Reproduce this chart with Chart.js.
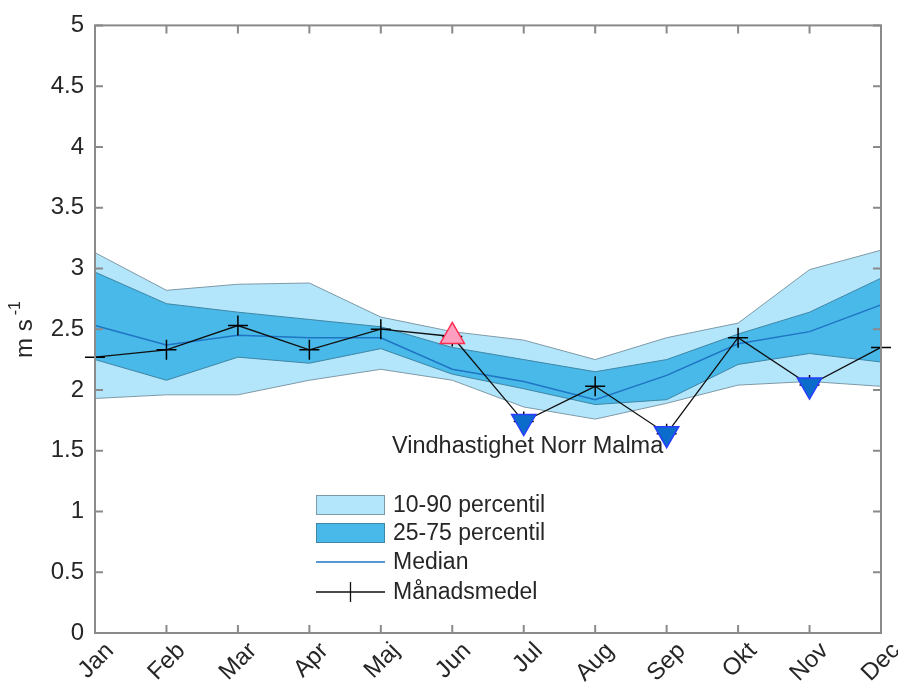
<!DOCTYPE html>
<html>
<head>
<meta charset="utf-8">
<script src="https://cdn.jsdelivr.net/npm/chart.js@4.4.1/dist/chart.umd.min.js"></script>
<style>
  html, body { margin: 0; padding: 0; background: #fff; }
  #wrap { width: 898px; height: 683px; }
</style>
</head>
<body>
<div id="wrap"><canvas id="vindChart"></canvas></div>
<script>
// Vindhastighet Norr Malma, månadsvärden (m/s)
const manader = ['Jan', 'Feb', 'Mar', 'Apr', 'Maj', 'Jun', 'Jul', 'Aug', 'Sep', 'Okt', 'Nov', 'Dec'];
const p90    = [3.13, 2.82, 2.87, 2.88, 2.60, 2.48, 2.41, 2.25, 2.43, 2.55, 2.99, 3.15];
const p75    = [2.97, 2.71, 2.64, 2.58, 2.52, 2.35, 2.25, 2.15, 2.25, 2.46, 2.64, 2.92];
const median = [2.53, 2.37, 2.45, 2.43, 2.43, 2.17, 2.07, 1.92, 2.12, 2.38, 2.48, 2.70];
const p25    = [2.25, 2.08, 2.27, 2.22, 2.34, 2.13, 2.01, 1.88, 1.92, 2.21, 2.30, 2.23];
const p10    = [1.93, 1.96, 1.96, 2.08, 2.17, 2.08, 1.86, 1.76, 1.89, 2.04, 2.07, 2.03];
const medel  = [2.27, 2.33, 2.53, 2.33, 2.50, 2.44, 1.74, 2.03, 1.64, 2.43, 2.04, 2.35];
// månader som markeras med triangel
const hogaManader = ['Jun'];
const lagaManader = ['Jul', 'Sep', 'Nov'];
const yTicks = [0, 0.5, 1, 1.5, 2, 2.5, 3, 3.5, 4, 4.5, 5];

const FONT = "'Liberation Sans', Arial, Helvetica, sans-serif";
const TEXTFARG = '#262626';
const AXELFARG = '#8a8a8a';

const hog = manader.map((m, i) => hogaManader.includes(m) ? medel[i] : null);
const lag = manader.map((m, i) => lagaManader.includes(m) ? medel[i] : null);

// ram runt diagrammet med inåtvända tickmarkeringar på alla sidor
const ramPlugin = {
    id: 'ram',
    afterDraw(chart) {
        const { ctx, chartArea: a, scales: { x, y } } = chart;
        const L = 8;
        ctx.save();
        ctx.strokeStyle = AXELFARG;
        ctx.lineWidth = 2;
        ctx.strokeRect(a.left, a.top, a.right - a.left, a.bottom - a.top);
        ctx.beginPath();
        x.ticks.forEach((t, i) => {
            const px = x.getPixelForTick(i);
            ctx.moveTo(px, a.bottom); ctx.lineTo(px, a.bottom - L);
            ctx.moveTo(px, a.top); ctx.lineTo(px, a.top + L);
        });
        y.ticks.forEach((t, i) => {
            const py = y.getPixelForTick(i);
            ctx.moveTo(a.left, py); ctx.lineTo(a.left + L, py);
            ctx.moveTo(a.right, py); ctx.lineTo(a.right - L, py);
        });
        ctx.stroke();
        ctx.restore();
    }
};

// y-axelns titel med upphöjd exponent
const yTitelPlugin = {
    id: 'yTitel',
    afterDraw(chart) {
        const ctx = chart.ctx;
        ctx.save();
        ctx.translate(32, 358);
        ctx.rotate(-Math.PI / 2);
        ctx.fillStyle = TEXTFARG;
        ctx.textAlign = 'left';
        ctx.textBaseline = 'alphabetic';
        ctx.font = '24px ' + FONT;
        ctx.fillText('m s', 0, 0);
        const w = ctx.measureText('m s').width;
        ctx.font = '16px ' + FONT;
        ctx.fillText('-1', w + 4, -12);
        ctx.restore();
    }
};

// text och teckenförklaring inne i diagrammet
const forklaringPlugin = {
    id: 'forklaring',
    afterDatasetsDraw(chart) {
        const ctx = chart.ctx;
        const ds = chart.data.datasets;
        ctx.save();
        ctx.font = '23.5px ' + FONT;
        ctx.fillStyle = TEXTFARG;
        ctx.textBaseline = 'alphabetic';
        ctx.textAlign = 'left';
        ctx.fillText('Vindhastighet Norr Malma', 392, 453);

        const x0 = 316, x1 = 385, tx = 393;
        const rader = [505, 533, 562, 592];
        ctx.font = '23px ' + FONT;
        ctx.textBaseline = 'middle';
        // band
        [[ds[0], rader[0]], [ds[2], rader[1]]].forEach(([d, cy]) => {
            ctx.fillStyle = d.backgroundColor;
            ctx.fillRect(x0, cy - 10, x1 - x0, 20);
            ctx.strokeStyle = d.borderColor;
            ctx.lineWidth = 1;
            ctx.strokeRect(x0 + 0.5, cy - 9.5, x1 - x0 - 1, 19);
            ctx.fillStyle = TEXTFARG;
            ctx.fillText(d.label, tx, cy + 1);
        });
        // median
        ctx.strokeStyle = ds[4].borderColor;
        ctx.lineWidth = ds[4].borderWidth;
        ctx.beginPath(); ctx.moveTo(x0, rader[2]); ctx.lineTo(x1, rader[2]); ctx.stroke();
        ctx.fillStyle = TEXTFARG;
        ctx.fillText(ds[4].label, tx, rader[2] + 1);
        // månadsmedel
        ctx.strokeStyle = ds[5].borderColor;
        ctx.lineWidth = ds[5].borderWidth;
        const cx = (x0 + x1) / 2, cy = rader[3];
        ctx.beginPath();
        ctx.moveTo(x0, cy); ctx.lineTo(x1, cy);
        ctx.moveTo(cx, cy - 10); ctx.lineTo(cx, cy + 10);
        ctx.stroke();
        ctx.fillText(ds[5].label, tx, cy + 1);
        ctx.restore();
    }
};

function skapaDiagram() {
    const ctx = document.getElementById('vindChart').getContext('2d');
    new Chart(ctx, {
        type: 'line',
        data: {
            labels: manader,
            datasets: [{
                label: '10-90 percentil',
                data: p90,
                borderColor: '#7e9aa7',
                backgroundColor: '#b3e5fb',
                borderWidth: 1,
                pointRadius: 0,
                fill: '+1',
                order: 5
            }, {
                label: '10 percentil',
                data: p10,
                borderColor: '#7e9aa7',
                borderWidth: 1,
                pointRadius: 0,
                fill: false,
                order: 5
            }, {
                label: '25-75 percentil',
                data: p75,
                borderColor: '#3f86a6',
                backgroundColor: '#48b9e8',
                borderWidth: 1,
                pointRadius: 0,
                fill: '+1',
                order: 4
            }, {
                label: '25 percentil',
                data: p25,
                borderColor: '#3f86a6',
                borderWidth: 1,
                pointRadius: 0,
                fill: false,
                order: 4
            }, {
                label: 'Median',
                data: median,
                borderColor: '#1f74c4',
                borderWidth: 1.5,
                pointRadius: 0,
                fill: false,
                order: 3
            }, {
                label: 'Månadsmedel',
                data: medel,
                borderColor: '#111111',
                borderWidth: 1.3,
                pointStyle: 'cross',
                pointRadius: 10,
                pointBorderWidth: 1.5,
                pointBorderColor: '#000000',
                fill: false,
                order: 2
            }, {
                label: 'Högt',
                data: hog,
                showLine: false,
                pointStyle: 'triangle',
                pointRadius: 14,
                pointBackgroundColor: '#ff9fc0',
                pointBorderColor: '#ff2f52',
                pointBorderWidth: 1.5,
                order: 1
            }, {
                label: 'Lågt',
                data: lag,
                showLine: false,
                pointStyle: 'triangle',
                pointRotation: 180,
                pointRadius: 14,
                pointBackgroundColor: '#0b6ccc',
                pointBorderColor: '#2a3dff',
                pointBorderWidth: 1.5,
                order: 1
            }]
        },
        options: {
            responsive: true,
            maintainAspectRatio: false,
            animation: false,
            events: [],
            layout: { padding: { top: 21, right: 17, left: 0, bottom: 0 } },
            elements: { line: { tension: 0 } },
            plugins: {
                legend: { display: false },
                tooltip: { enabled: false },
                filler: { drawTime: 'beforeDatasetsDraw' }
            },
            scales: {
                x: {
                    type: 'category',
                    offset: false,
                    grid: { display: false, drawTicks: false },
                    border: { display: false },
                    ticks: {
                        autoSkip: false,
                        minRotation: 45,
                        maxRotation: 45,
                        padding: 4,
                        labelOffset: 15,
                        color: TEXTFARG,
                        font: { family: FONT, size: 24 }
                    },
                    afterFit: function(scale) {
                        scale.height = 50;
                        scale.paddingLeft = 0;
                        scale.paddingRight = 0;
                    }
                },
                y: {
                    min: 0,
                    max: 5,
                    grid: { display: false, drawTicks: false },
                    border: { display: false },
                    afterBuildTicks: function(scale) {
                        scale.ticks = yTicks.map(v => ({ value: v }));
                    },
                    ticks: {
                        padding: 11,
                        color: TEXTFARG,
                        font: { family: FONT, size: 24 },
                        callback: function(value) { return String(value); }
                    },
                    afterFit: function(scale) { scale.width = 95; }
                }
            }
        },
        plugins: [ramPlugin, yTitelPlugin, forklaringPlugin]
    });
}

document.addEventListener('DOMContentLoaded', skapaDiagram);
</script>
</body>
</html>
